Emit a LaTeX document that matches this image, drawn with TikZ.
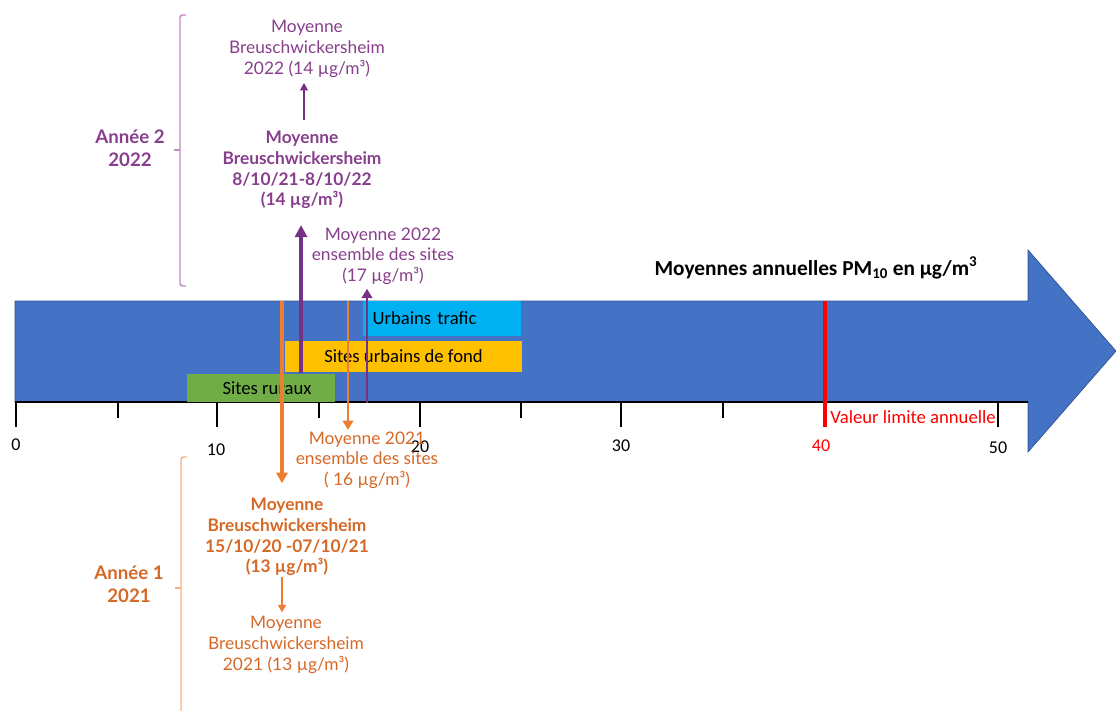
\documentclass[tikz,border=0pt]{standalone}
\usepackage{fontspec}
\setmainfont{Carlito}
\newfontfamily\latofont{Lato}
\usetikzlibrary{positioning,arrows.meta}
\definecolor{bandblue}{RGB}{68,114,196}
\definecolor{bandline}{RGB}{47,82,143}
\definecolor{trafic}{RGB}{0,176,240}
\definecolor{fond}{RGB}{255,192,0}
\definecolor{rural}{RGB}{112,173,71}
\definecolor{an2}{RGB}{118,50,132}
\definecolor{an2txt}{RGB}{135,62,140}
\definecolor{an2brace}{RGB}{190,140,195}
\definecolor{an1}{RGB}{237,125,49}
\definecolor{an1txt}{RGB}{214,104,38}
\definecolor{an1brace}{RGB}{244,177,131}
\definecolor{limite}{RGB}{255,0,0}

\begin{document}
\begin{tikzpicture}[x=0.75pt, y=-0.75pt,
		box/.style={inner sep=0pt, font=\fontsize{14}{16}\selectfont, text=black},
		lbl/.style={align=center, inner sep=1pt, font=\latofont\fontsize{13}{15.5}\selectfont},
		lblbold/.style={align=center, inner sep=1pt, font=\latofont\bfseries\fontsize{13}{15.5}\selectfont},
		annee/.style={align=center, inner sep=1pt, font=\latofont\bfseries\fontsize{14}{17}\selectfont},
		num/.style={font=\fontsize{13.5}{15}\selectfont},
		brace/.style={line width=1.1pt, rounded corners=2pt},
		fleche/.style={-{Triangle[length=7pt,width=8pt]}},
		petite/.style={line width=1.1pt, -{Triangle[length=5.5pt,width=6pt]}}
		]
		\useasboundingbox (0,0) rectangle (1116,710);
		
		% axe
		\filldraw[fill=bandblue, draw=bandline, line width=0.5pt]
			(15,301) -- (1028,301) -- (1028,250) -- (1116,351) -- (1028,452) -- (1028,402) -- (15,402) -- cycle;
		\draw[line width=1.2pt] (15,402) -- (1028,402);
		\foreach \xx/\len in {16/25, 118/16, 217/25, 319/16, 420/25, 521/16, 621/25, 723/16, 998/25}
			\draw[line width=1.2pt] (\xx,402) -- (\xx,402+\len);
		\foreach \val/\xx/\yy in {0/16/445, 10/216/450, 20/420/447, 30/621/446, 50/998/448}
			\node[num] (n\val) at (\xx,\yy) {\val};
		\node[num, text=limite] (n40) at (821,446) {40};
		
		\node[box, font=\bfseries\fontsize{16}{18}\selectfont] (titre) at (816,268)
			{Moyennes annuelles PM\textsubscript{10} en µg/m\textsuperscript{3}};
		
		% categories
		\node[box, fill=trafic, anchor=west, minimum height=26.25pt, text width=104.5pt,
			inner xsep=7pt, align=left] (traf) at (363,318.5) {Urbains trafic};
		\node[box, fill=fond, minimum width=177.75pt, minimum height=23.25pt] (fond) at (403.5,356.5) {Sites urbains de fond};
		\node[box, fill=rural, minimum width=111pt, minimum height=21pt] (rur) at (261,388) {\hspace*{9pt}Sites ruraux};
		
		\coordinate (lim1) at (825,301);
		\coordinate (lim2) at (825,427);
		\draw[limite, line width=2.3pt] (lim1) -- (lim2);
		\node[box, text=limite, anchor=west] (vlim) at (830,417) {Valeur limite annuelle};
		
		% annee 2
		\node[lbl, text=an2txt] (moy22) at (307,49) {Moyenne\\Breuschwickersheim\\2022 (14 µg/m³)};
		\node[lblbold, text=an2txt] (moyB22) at (302,170) {Moyenne\\Breuschwickersheim\\8/10/21-8/10/22\\(14 µg/m³)};
		\node[lbl, text=an2txt] (ens22) at (383,256) {Moyenne 2022\\ensemble des sites\\(17 µg/m³)};
		\node[annee, text=an2txt] (an2lbl) at (130,148) {Année 2\\2022};
		\draw[an2brace, brace] (186,15) -- (180,15) -- (180,286) -- (186,286);
		\draw[an2brace, line width=1.1pt] (180,150) -- (174,150);
		
		\coordinate (p22) at (301,373);
		\coordinate (e22) at (367,403);
		\draw[an2, line width=3pt, -{Triangle[length=9pt,width=9pt]}, shorten >=11pt] (p22) -- (moyB22.south -| p22);
		\draw[an2, line width=1.5pt, fleche, shorten >=2pt] (e22) -- (ens22.south -| e22);
		\draw[an2, petite, shorten <=7pt, shorten >=3pt] (moyB22.north -| 304,0) -- (moy22.south -| 304,0);
		
		% annee 1
		\node[lbl, text=an1txt] (ens21) at (367,460) {Moyenne 2021\\ensemble des sites\\( 16 µg/m³)};
		\node[lblbold, text=an1txt] (moyB21) at (287,537) {Moyenne\\Breuschwickersheim\\15/10/20 -07/10/21\\(13 µg/m³)};
		\node[lbl, text=an1txt] (moy21) at (286,645) {Moyenne\\Breuschwickersheim\\2021 (13 µg/m³)};
		\node[annee, text=an1txt] (an1lbl) at (129,584) {Année 1\\2021};
		\draw[an1brace, brace] (187,457) -- (181,457) -- (181,714);
		\draw[an1brace, line width=1.1pt] (181,588) -- (175,588);
		
		\coordinate (p21) at (282,301);
		\coordinate (e21) at (348,301);
		\draw[an1, line width=2.3pt, -{Triangle[length=8pt,width=8.5pt]}, shorten >=10pt] (p21) -- (moyB21.north -| p21);
		\draw[an1, line width=1.5pt, fleche] (e21) -- (ens21.north -| e21);
		\draw[an1, petite, shorten >=2pt] (moyB21.south -| 282,0) -- (moy21.north -| 282,0);
	\end{tikzpicture}
\end{document}
